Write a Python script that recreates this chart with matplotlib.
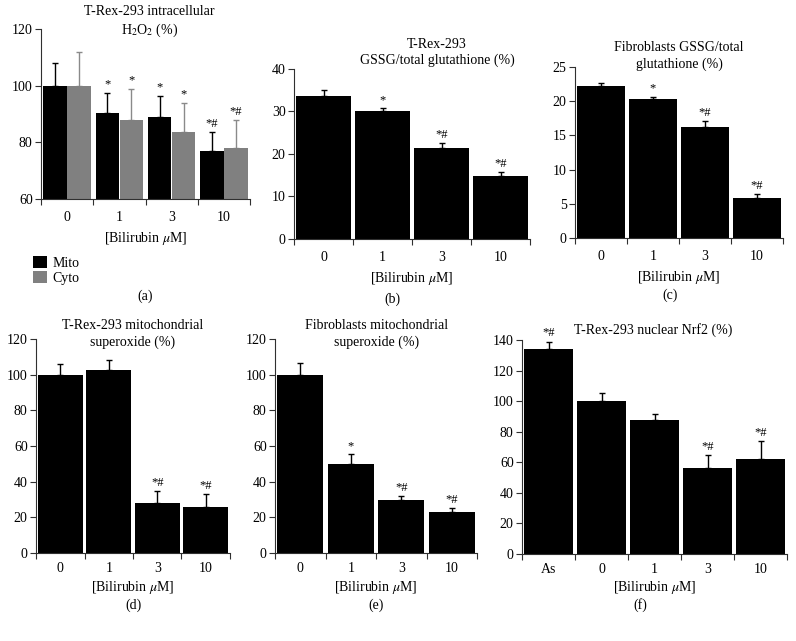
import numpy as np
import matplotlib
matplotlib.use("Agg")
import matplotlib.pyplot as plt

plt.rcParams['font.family'] = ['Liberation Serif', 'DejaVu Serif']
plt.rcParams['mathtext.fontset'] = 'stix'
plt.rcParams['font.size'] = 10

doses = ["0", "1", "3", "10"]
doses_f = ["As", "0", "1", "3", "10"]

# (a) H2O2, mito / cyto
h2o2_mito = [100, 90.5, 89, 77]
h2o2_mito_err = [8, 7, 7.5, 6.5]
h2o2_cyto = [100, 88, 83.5, 78]
h2o2_cyto_err = [12, 11, 10.5, 10]
h2o2_mito_sig = ["", "*", "*", "*#"]
h2o2_cyto_sig = ["", "*", "*", "*#"]

# (b) T-Rex-293 GSSG
gssg_trex = [33.7, 30.0, 21.5, 14.8]
gssg_trex_err = [1.4, 0.8, 1.1, 0.9]
gssg_trex_sig = ["", "*", "*#", "*#"]

# (c) Fibroblasts GSSG
gssg_fib = [22.2, 20.3, 16.3, 5.9]
gssg_fib_err = [0.5, 0.35, 0.8, 0.55]
gssg_fib_sig = ["", "*", "*#", "*#"]

# (d) T-Rex-293 superoxide
sox_trex = [100, 102.5, 28, 25.7]
sox_trex_err = [6, 5.5, 6.5, 7.3]
sox_trex_sig = ["", "", "*#", "*#"]

# (e) Fibroblasts superoxide
sox_fib = [100, 50, 30, 23]
sox_fib_err = [6.5, 5.5, 2, 2]
sox_fib_sig = ["", "*", "*#", "*#"]

# (f) Nrf2
nrf2 = [134, 100, 87.5, 56, 62]
nrf2_err = [5, 5.5, 4, 9, 12]
nrf2_sig = ["*#", "", "", "*#", "*#"]

W, H = 796, 641
fig = plt.figure(figsize=(W / 100, H / 100), dpi=100)

SPINE = '#303030'


def make_ax(l, r, t, b):
    return fig.add_axes([l / W, 1 - b / H, (r - l) / W, (b - t) / H])


def style(ax, labels, ylim, yticks, pad):
    n = len(labels)
    ax.set_xlim(0, n)
    ax.set_ylim(*ylim)
    ax.set_yticks(yticks)
    ax.set_xticks(np.arange(n + 1))
    ax.set_xticklabels([])
    ax.set_xticks(np.arange(n) + 0.5, minor=True)
    ax.set_xticklabels(labels, minor=True)
    ax.tick_params(axis='x', which='minor', length=0, pad=pad)
    ax.tick_params(axis='x', which='major', length=4, width=0.8, color=SPINE)
    ax.tick_params(axis='y', length=4, width=0.8, color=SPINE, pad=2)
    for s in ['top', 'right']:
        ax.spines[s].set_visible(False)
    for s in ['left', 'bottom']:
        ax.spines[s].set_color(SPINE)
        ax.spines[s].set_linewidth(0.8)


def draw_bars(ax, x, vals, errs, sigs, width, color, ecolor):
    bars = ax.bar(x, vals, width=width, color=color, zorder=2)
    ax.errorbar(x, vals, yerr=[np.zeros(len(vals)), errs], fmt='none',
                ecolor=ecolor, elinewidth=1, capsize=2.5, capthick=1, zorder=1)
    for xi, v, e, s in zip(x, vals, errs, sigs):
        if s:
            ax.annotate(s, (xi, v + e), xytext=(0, 1.5), textcoords='offset points',
                        ha='center', va='bottom', fontsize=9)
    return bars


def simple_panel(l, r, t, b, labels, vals, errs, sigs, ylim, yticks, title, tx, ty,
                 pad=8, labelpad=4):
    ax = make_ax(l, r, t, b)
    x = np.arange(len(vals)) + 0.5
    draw_bars(ax, x, vals, errs, sigs, 0.92, 'black', 'black')
    style(ax, labels, ylim, yticks, pad)
    ax.text(tx, ty, title, transform=ax.transAxes, ha='center', va='center',
            linespacing=1.3)
    ax.set_xlabel(r'[Bilirubin $\mu$M]', labelpad=labelpad)
    return ax


# (a)
ax = make_ax(41, 250, 29, 199)
xa = np.arange(4)
b_mito = draw_bars(ax, xa + 0.27, h2o2_mito, h2o2_mito_err, h2o2_mito_sig, 0.45, 'black', 'black')
b_cyto = draw_bars(ax, xa + 0.73, h2o2_cyto, h2o2_cyto_err, h2o2_cyto_sig, 0.45, '#808080', '#8a8a8a')
style(ax, doses, (60, 120), [60, 80, 100, 120], 8.5)
ax.text(0.52, 1.04, "T-Rex-293 intracellular\nH$_\\mathrm{2}$O$_\\mathrm{2}$ (%)",
        transform=ax.transAxes, ha='center', va='center', linespacing=1.3)
ax.set_xlabel(r'[Bilirubin $\mu$M]', labelpad=4.5)
ax.legend(handles=[b_mito, b_cyto], labels=['Mito', 'Cyto'],
          loc='upper left', bbox_to_anchor=(-0.04, -0.335), frameon=False,
          handlelength=1.0, handleheight=1.0, handletextpad=0.4, labelspacing=0.05,
          borderpad=0, borderaxespad=0)

simple_panel(294, 530, 69, 239, doses, gssg_trex, gssg_trex_err, gssg_trex_sig,
             (0, 40), [0, 10, 20, 30, 40], "T-Rex-293\nGSSG/total glutathione (%)", 0.606, 1.097,
             pad=8.5, labelpad=4.5)
simple_panel(575, 783, 67, 238, doses, gssg_fib, gssg_fib_err, gssg_fib_sig,
             (0, 25), [0, 5, 10, 15, 20, 25], "Fibroblasts GSSG/total\nglutathione (%)", 0.5, 1.064,
             pad=8.5, labelpad=4.5)
simple_panel(36, 230, 339, 553, doses, sox_trex, sox_trex_err, sox_trex_sig,
             (0, 120), np.arange(0, 121, 20), "T-Rex-293 mitochondrial\nsuperoxide (%)", 0.5, 1.023,
             pad=6.5, labelpad=2.5)
simple_panel(275, 477, 339, 553, doses, sox_fib, sox_fib_err, sox_fib_sig,
             (0, 120), np.arange(0, 121, 20), "Fibroblasts mitochondrial\nsuperoxide (%)", 0.505, 1.023,
             pad=6.5, labelpad=2.5)
simple_panel(522, 787, 340, 554, doses_f, nrf2, nrf2_err, nrf2_sig,
             (0, 140), np.arange(0, 141, 20), "T-Rex-293 nuclear Nrf2 (%)", 0.494, 1.047,
             pad=6.5, labelpad=2.5)

for lab, px, py in [("(a)", 145, 296), ("(b)", 392, 299), ("(c)", 670, 295),
                    ("(d)", 133, 605), ("(e)", 376, 605), ("(f)", 640, 605)]:
    fig.text(px / W, 1 - py / H, lab, ha='center', va='center')

fig.savefig("out.png", dpi=100)
